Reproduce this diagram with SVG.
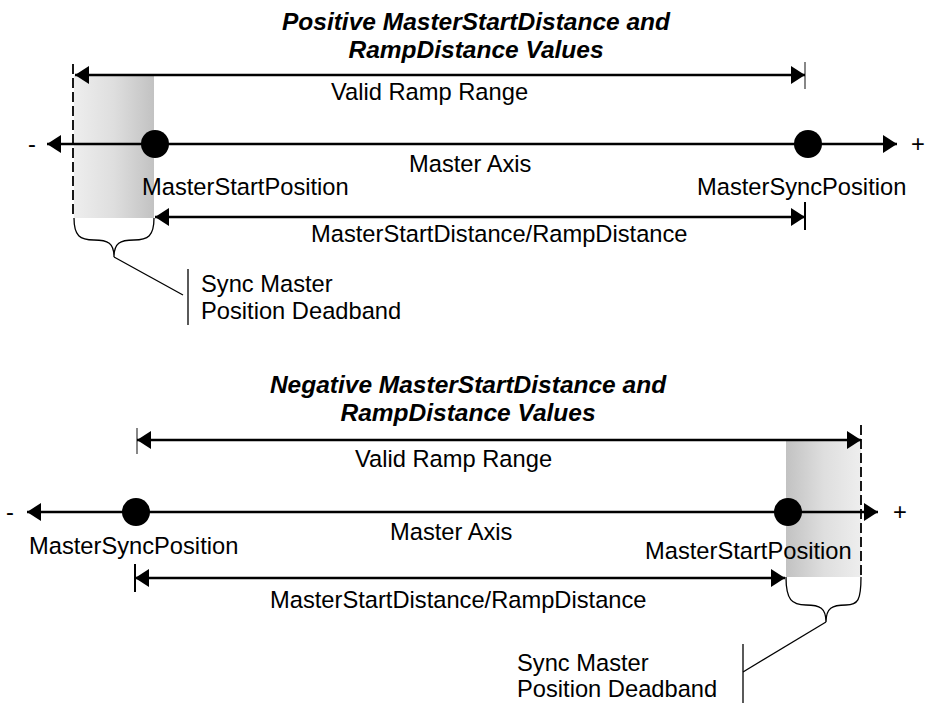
<svg xmlns="http://www.w3.org/2000/svg" width="931" height="706" viewBox="0 0 931 706">
<defs>
<style>
.t{font-family:"Liberation Sans",Arial,sans-serif;font-size:23.7px;fill:#000}
.h{font-family:"Liberation Sans",Arial,sans-serif;font-size:24.5px;font-weight:bold;font-style:italic;fill:#000}
.ln{stroke:#000;stroke-width:2.6;fill:none}
.tk{stroke:#555;stroke-width:1.4;fill:none}
.tkb{stroke:#000;stroke-width:2;fill:none}
.dash{stroke:#000;stroke-width:1.8;stroke-dasharray:10,4;fill:none}
.thin{stroke:#000;stroke-width:1.3;fill:none}
.dot{fill:#000}
</style>
<marker id="ah" viewBox="0 0 14 18" refX="14" refY="9" markerWidth="14" markerHeight="18" markerUnits="userSpaceOnUse" orient="auto-start-reverse">
<path d="M0,0 L14,9 L0,18 Z" fill="#000"/>
</marker>
<linearGradient id="gL" x1="0" y1="0" x2="1" y2="0">
<stop offset="0" stop-color="#eeeeee"/><stop offset="0.5" stop-color="#dedede"/><stop offset="1" stop-color="#c2c2c2"/>
</linearGradient>
<linearGradient id="gR" x1="0" y1="0" x2="1" y2="0">
<stop offset="0" stop-color="#c2c2c2"/><stop offset="0.5" stop-color="#dedede"/><stop offset="1" stop-color="#eeeeee"/>
</linearGradient>
</defs>

<g id="top-diagram">
<g id="top-title">
<text class="h" x="476" y="30" text-anchor="middle">Positive MasterStartDistance and</text>
<text class="h" x="476" y="58" text-anchor="middle">RampDistance Values</text>
</g>
<g id="top-deadband">
<rect x="74" y="75" width="80" height="143" fill="url(#gL)"/>
</g>
<g id="top-connectors">
<line class="dash" x1="73" y1="64" x2="73" y2="218"/>
<line class="tk" x1="805" y1="62" x2="805" y2="89"/>
<line class="ln" x1="75" y1="75" x2="805" y2="75" marker-start="url(#ah)" marker-end="url(#ah)"/>
<line class="ln" x1="47" y1="144" x2="897" y2="144" marker-start="url(#ah)" marker-end="url(#ah)"/>
<line class="tkb" x1="805" y1="202" x2="805" y2="230"/>
<line class="ln" x1="155" y1="217" x2="805" y2="217" marker-start="url(#ah)" marker-end="url(#ah)"/>
<path class="thin" d="M74,218 C74,236 80,240 94,240 C108,240 114,243 114,257 C114,243 120,240 134,240 C148,240 154,236 154,218"/>
<line class="thin" x1="114" y1="257" x2="183" y2="295"/>
<line class="thin" x1="188" y1="269" x2="188" y2="325"/>
</g>
<g id="top-start-node"><circle class="dot" cx="155" cy="144" r="14"/></g>
<g id="top-sync-node"><circle class="dot" cx="808" cy="144" r="14"/></g>
<g id="top-labels">
<text class="t" x="28" y="152">-</text>
<text class="t" x="911" y="152">+</text>
<text class="t" x="331" y="100">Valid Ramp Range</text>
<text class="t" x="409" y="172">Master Axis</text>
<text class="t" x="142" y="195">MasterStartPosition</text>
<text class="t" x="697" y="195">MasterSyncPosition</text>
<text class="t" x="311" y="242">MasterStartDistance/RampDistance</text>
<text class="t" x="201" y="292">Sync Master</text>
<text class="t" x="201" y="319">Position Deadband</text>
</g>
</g>

<g id="bottom-diagram">
<g id="bottom-title">
<text class="h" x="468" y="393" text-anchor="middle">Negative MasterStartDistance and</text>
<text class="h" x="468" y="421" text-anchor="middle">RampDistance Values</text>
</g>
<g id="bottom-deadband">
<rect x="786" y="440" width="75" height="137" fill="url(#gR)"/>
</g>
<g id="bottom-connectors">
<line class="dash" x1="861" y1="425" x2="861" y2="577"/>
<line class="tk" x1="137" y1="428" x2="137" y2="454"/>
<line class="ln" x1="137" y1="440" x2="861" y2="440" marker-start="url(#ah)" marker-end="url(#ah)"/>
<line class="ln" x1="27" y1="512" x2="878" y2="512" marker-start="url(#ah)" marker-end="url(#ah)"/>
<line class="tkb" x1="135" y1="564" x2="135" y2="592"/>
<line class="ln" x1="135" y1="578" x2="785" y2="578" marker-start="url(#ah)" marker-end="url(#ah)"/>
<path class="thin" d="M786,577 C786,600 792,605 806,605 C820,605 826,608 826,622 C826,608 832,605 846,605 C858,605 861,600 861,577"/>
<line class="thin" x1="826" y1="622" x2="743" y2="672"/>
<line class="thin" x1="743" y1="644" x2="743" y2="703"/>
</g>
<g id="bottom-sync-node"><circle class="dot" cx="136" cy="512" r="14"/></g>
<g id="bottom-start-node"><circle class="dot" cx="788" cy="512" r="14"/></g>
<g id="bottom-labels">
<text class="t" x="6" y="520">-</text>
<text class="t" x="893" y="520">+</text>
<text class="t" x="355" y="467">Valid Ramp Range</text>
<text class="t" x="390" y="540">Master Axis</text>
<text class="t" x="29" y="554">MasterSyncPosition</text>
<text class="t" x="645" y="559">MasterStartPosition</text>
<text class="t" x="270" y="608">MasterStartDistance/RampDistance</text>
<text class="t" x="517" y="671">Sync Master</text>
<text class="t" x="517" y="697">Position Deadband</text>
</g>
</g>
</svg>
